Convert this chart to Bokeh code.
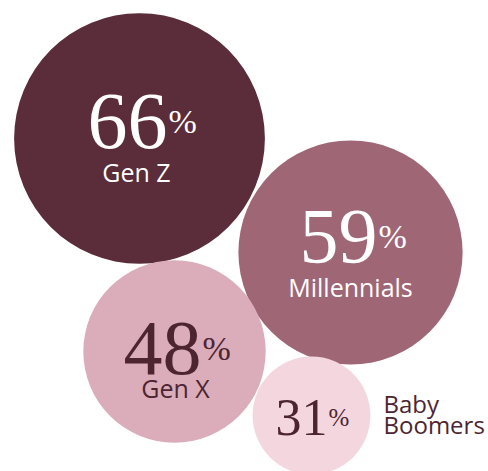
from bokeh.plotting import figure
from bokeh.models import Range1d, ColumnDataSource
from bokeh.core.properties import value
from bokeh.embed import file_html
from bokeh.resources import INLINE

# data
groups = ["Gen Z", "Millennials", "Gen X", "Baby Boomers"]
shares = [66, 59, 48, 31]

# layout (pixel-like coordinates, y downward)
cx = [139, 350, 174, 311]
cy = [138, 252, 351, 415]
scale = 1.9
fills = ["#5b2c39", "#9f6676", "#dbadbb", "#f3d6de"]
txt_colors = ["#ffffff", "#ffffff", "#4d2531", "#4d2531"]
num_dx = [28, 27, 27, 16]
num_dy = [-17, -16, -3, 2]
num_size = ["80px", "78px", "78px", "52px"]
pct_size = ["34px", "34px", "34px", "25px"]
lab_dx = [-3, 0, 1, None]
lab_dy = [33, 34, 36, None]

p = figure(width=488, height=471, output_backend="svg", toolbar_location=None,
           x_range=Range1d(0, 488), y_range=Range1d(471, 0), min_border=0)
p.axis.visible = False
p.grid.visible = False
p.outline_line_color = None
p.background_fill_color = "white"

src = ColumnDataSource(dict(x=cx, y=cy, r=[v * scale for v in shares], c=fills))
p.circle(x="x", y="y", radius="r", fill_color="c", line_color=None, source=src)

for i, g in enumerate(groups):
    nx = cx[i] + num_dx[i]
    ny = cy[i] + num_dy[i]
    p.text(x=[nx], y=[ny], text=[str(shares[i])], text_align="right",
           text_baseline="alphabetic", text_font=value("Liberation Serif"),
           text_font_size=num_size[i], text_color=txt_colors[i])
    p.text(x=[nx + 1], y=[ny], text=["%"], text_align="left",
           text_baseline="alphabetic", text_font=value("Liberation Serif"),
           text_font_size=pct_size[i], text_color=txt_colors[i])
    if lab_dx[i] is not None:
        p.text(x=[cx[i] + lab_dx[i]], y=[cy[i] + lab_dy[i]], text=[g], text_align="center",
               text_baseline="alphabetic", text_font=value("Open Sans"),
               text_font_size="25px", text_font_style="normal", text_color=txt_colors[i])

# Baby Boomers label outside the bubble
p.text(x=[383, 383], y=[403, 424], text=["Baby", "Boomers"], text_align="left",
       text_baseline="alphabetic", text_font=value("Open Sans"),
       text_font_size="24px", text_color="#4d2531")

open("out.html", "w").write(file_html(p, INLINE))
